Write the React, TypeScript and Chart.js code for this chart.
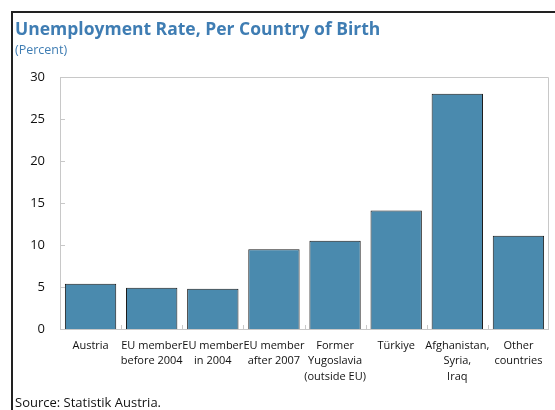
import React, { useEffect, useRef } from "react";
import { Chart, registerables } from "chart.js";

Chart.register(...registerables);

const categories: string[][] = [
  ["Austria"],
  ["EU member", "before 2004"],
  ["EU member", "in 2004"],
  ["EU member", "after 2007"],
  ["Former", "Yugoslavia", "(outside EU)"],
  ["Türkiye"],
  ["Afghanistan,", "Syria,", "Iraq"],
  ["Other", "countries"],
];
const rates: number[] = [5.4, 4.9, 4.8, 9.5, 10.5, 14.1, 28.0, 11.1];
const yTicks: number[] = [0, 5, 10, 15, 20, 25, 30];

const FONT = "'Open Sans', 'Noto Sans', sans-serif";

const framePlugin = {
  id: "frame",
  afterDatasetsDraw(chart: any) {
    const { ctx, chartArea: a, scales } = chart;
    ctx.save();
    ctx.strokeStyle = "#c8c8c8";
    ctx.lineWidth = 1;
    ctx.beginPath();
    ctx.moveTo(a.left + 0.5, a.bottom);
    ctx.lineTo(a.left + 0.5, a.top + 0.5);
    ctx.lineTo(a.right - 0.5, a.top + 0.5);
    ctx.lineTo(a.right - 0.5, a.bottom);
    ctx.stroke();
    const y = scales.y;
    y.ticks.forEach((t: any) => {
      const py = Math.round(y.getPixelForValue(t.value)) + 0.5;
      ctx.beginPath();
      ctx.moveTo(a.left, py);
      ctx.lineTo(a.left + 5, py);
      ctx.stroke();
    });
    const x = scales.x;
    for (let i = 0; i < categories.length - 1; i++) {
      const px = Math.round((x.getPixelForValue(i) + x.getPixelForValue(i + 1)) / 2) + 0.5;
      ctx.beginPath();
      ctx.moveTo(px, a.bottom);
      ctx.lineTo(px, a.bottom - 4);
      ctx.stroke();
    }
    ctx.beginPath();
    ctx.moveTo(a.left, Math.round(a.bottom) + 0.5);
    ctx.lineTo(a.right, Math.round(a.bottom) + 0.5);
    ctx.stroke();
    ctx.restore();
  },
};

function BarChart() {
  const ref = useRef<HTMLCanvasElement | null>(null);
  useEffect(() => {
    if (!ref.current) return;
    const chart = new Chart(ref.current, {
      type: "bar",
      data: {
        labels: categories,
        datasets: [
          {
            data: rates,
            backgroundColor: "#4a8aae",
            borderColor: "#1a1a1a",
            borderWidth: 1,
            barPercentage: 0.84,
            categoryPercentage: 1,
          },
        ],
      },
      options: {
        animation: false,
        responsive: false,
        maintainAspectRatio: false,
        layout: { padding: { left: 12, top: 77, right: 6, bottom: 21 } },
        plugins: {
          legend: { display: false },
          title: { display: false },
          tooltip: { enabled: false },
        },
        scales: {
          x: {
            offset: true,
            grid: { display: false, drawTicks: false },
            border: { display: false },
            ticks: {
              color: "#111",
              font: { family: FONT, size: 11, lineHeight: 1.4 },
              padding: 9,
              maxRotation: 0,
              autoSkip: false,
            },
            afterFit: (s: any) => {
              s.height = 60;
            },
          },
          y: {
            min: 0,
            max: 30,
            afterBuildTicks: (s: any) => {
              s.ticks = yTicks.map((v) => ({ value: v }));
            },
            grid: { display: false, drawTicks: false },
            border: { display: false },
            ticks: {
              color: "#111",
              font: { family: FONT, size: 13 },
              padding: 15,
            },
            afterFit: (s: any) => {
              s.width = 48;
            },
          },
        },
      },
      plugins: [framePlugin],
    });
    return () => chart.destroy();
  }, []);
  return <canvas ref={ref} width={555} height={410} style={{ position: "absolute", left: 0, top: 0 }} />;
}

export default function App() {
  return (
    <div
      style={{
        position: "fixed",
        left: 0,
        top: 0,
        width: 555,
        height: 410,
        background: "#fff",
        overflow: "hidden",
        fontFamily: FONT,
      }}
    >
      <BarChart />
      <div style={{ position: "absolute", left: 11, top: 11, width: 544, height: 2, background: "#222" }} />
      <div style={{ position: "absolute", left: 11, top: 11, width: 2, height: 399, background: "#222" }} />
      <div
        style={{
          position: "absolute",
          left: 15,
          top: 17,
          fontSize: 17.5,
          fontWeight: 700,
          color: "#3f7db3",
          whiteSpace: "nowrap",
          lineHeight: "22px",
        }}
      >
        Unemployment Rate, Per Country of Birth
      </div>
      <div
        style={{
          position: "absolute",
          left: 15,
          top: 42,
          fontSize: 12.5,
          color: "#3f7db3",
          whiteSpace: "nowrap",
          lineHeight: "16px",
        }}
      >
        (Percent)
      </div>
      <div
        style={{
          position: "absolute",
          left: 15,
          top: 393,
          fontSize: 13,
          color: "#111",
          whiteSpace: "nowrap",
          lineHeight: "18px",
        }}
      >
        Source: Statistik Austria.
      </div>
    </div>
  );
}
